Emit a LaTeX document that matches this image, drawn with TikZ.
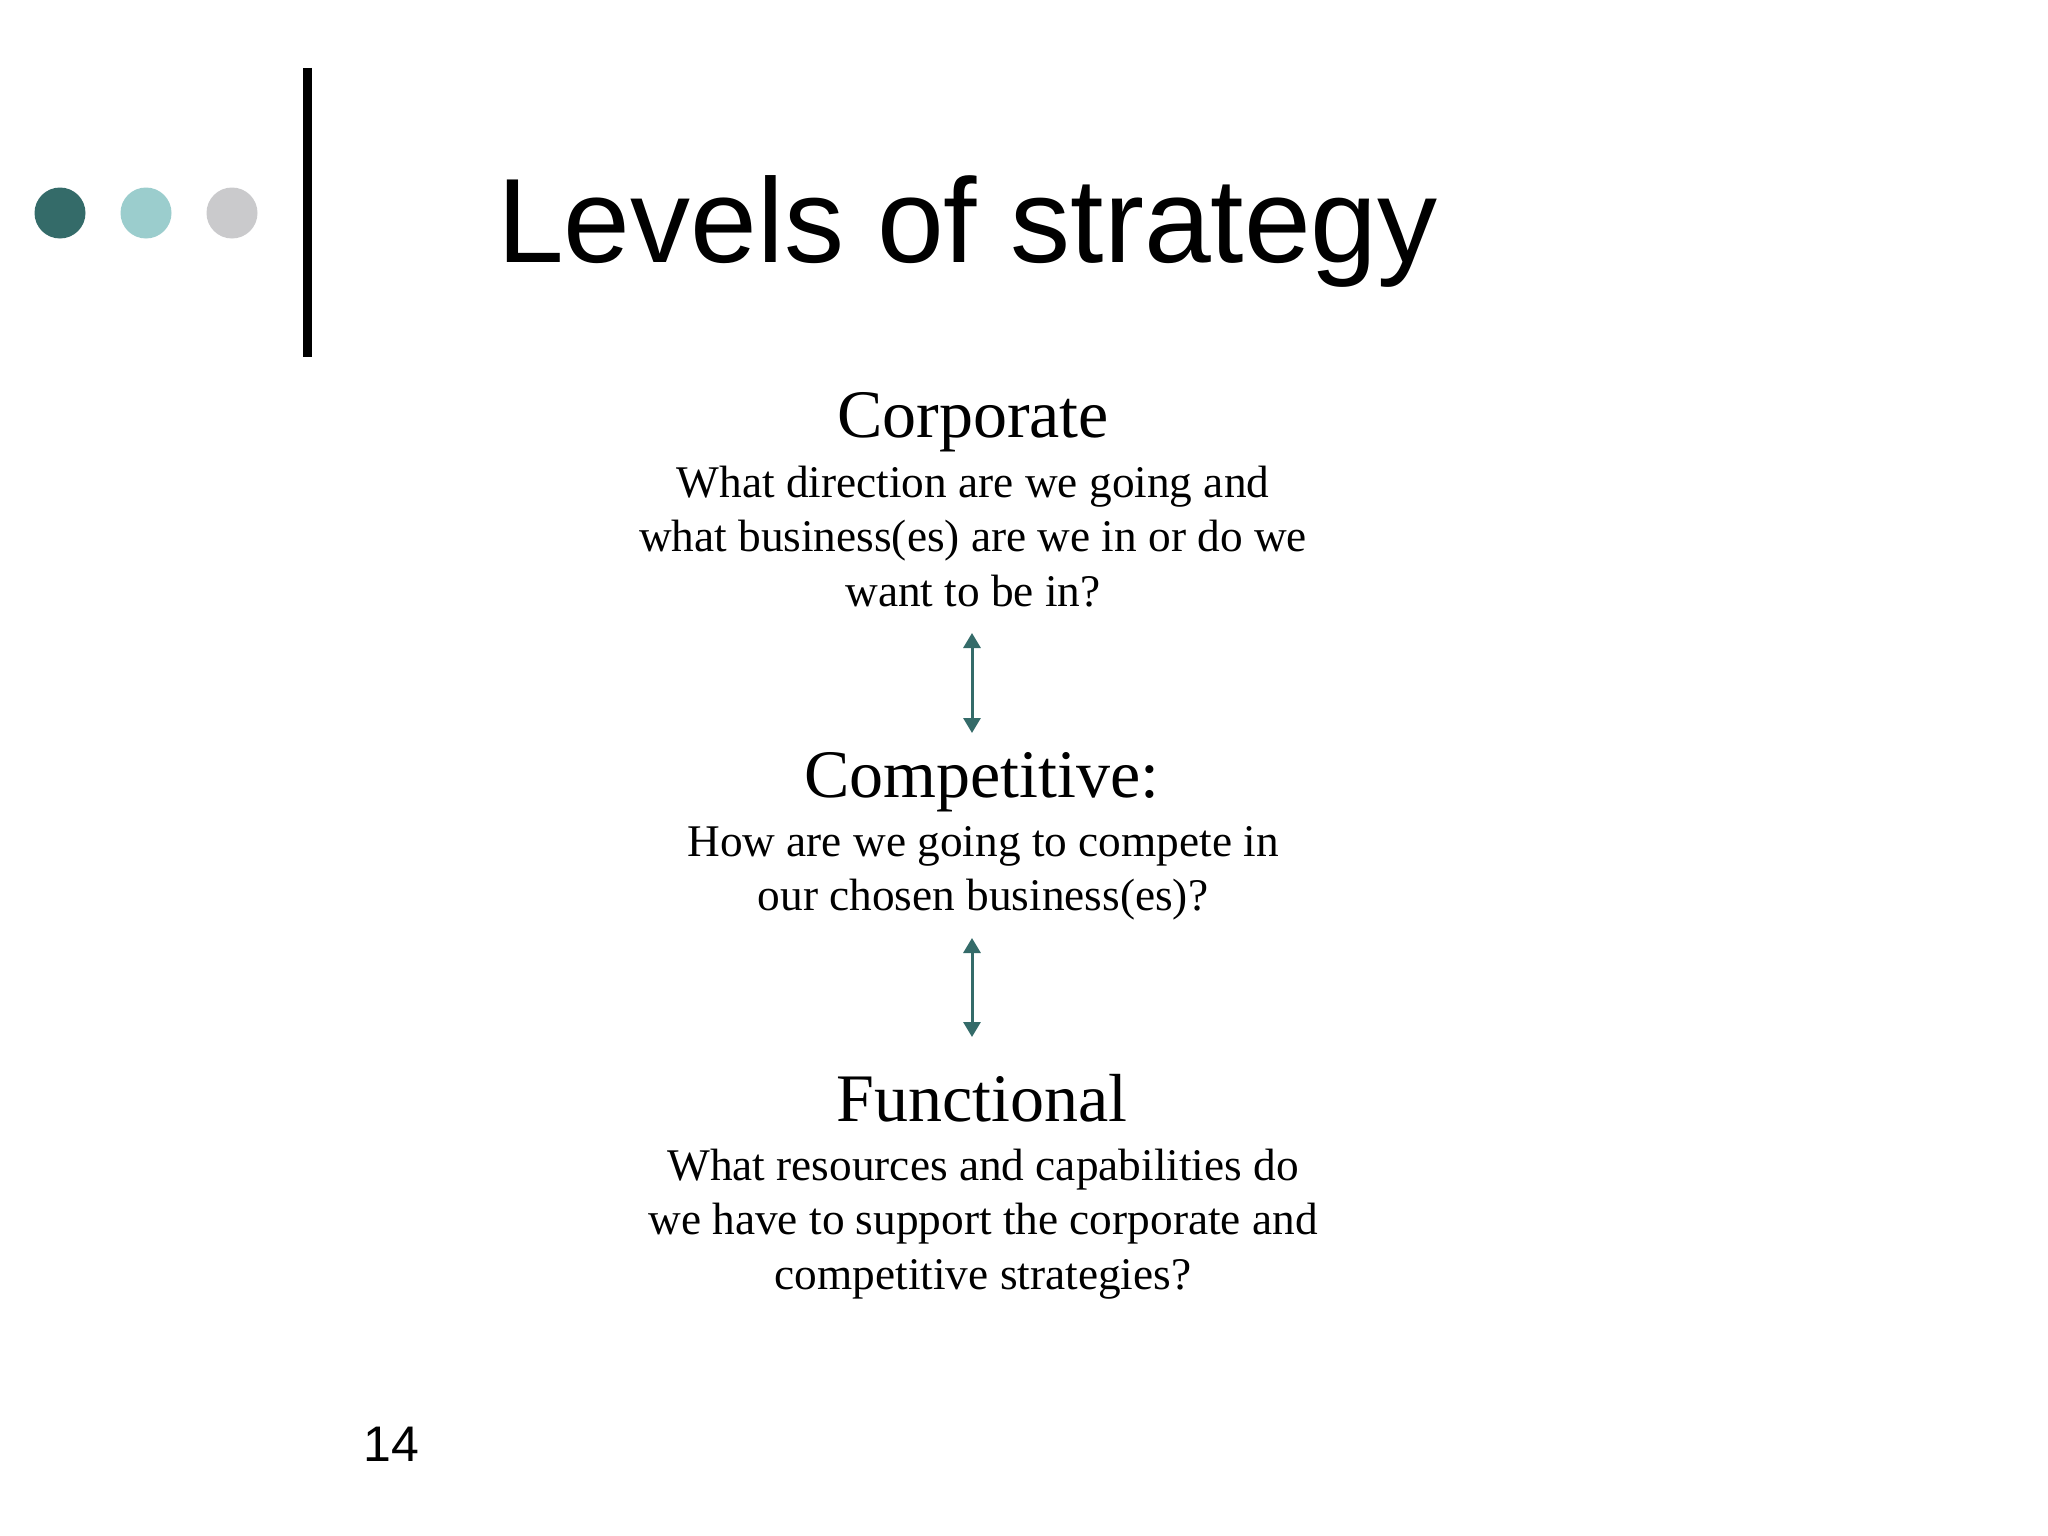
\documentclass[tikz,border=0pt]{standalone}
\usepackage{fontspec}
\setmainfont{Liberation Serif}
\newfontfamily\titlefont{Liberation Sans}
\usetikzlibrary{arrows.meta}
\definecolor{tealA}{HTML}{346B69}
\definecolor{tealB}{HTML}{9BCDCD}
\definecolor{greyC}{HTML}{CACACC}
\begin{document}
\begin{tikzpicture}[x=1pt,y=-1pt,
  headtxt/.style={anchor=base,inner sep=0pt,font=\fontsize{68}{78}\selectfont},
  bodytxt/.style={anchor=base,inner sep=0pt,font=\fontsize{45.3}{54.5}\selectfont},
  arr/.style={tealA,line width=3pt,{Triangle[length=15pt,width=17pt]}-{Triangle[length=15pt,width=17pt]}},
  dotnode/.style={circle,inner sep=0pt,minimum size=51pt,draw=none}]
\useasboundingbox[fill=white] (0,0) rectangle (2048,1536);
% decoration
\node[dotnode,fill=tealA] (d1) at (60,213) {};
\node[dotnode,fill=tealB] (d2) at (146,213) {};
\node[dotnode,fill=greyC] (d3) at (232,213) {};
\draw[line width=9pt] (307,68) -- (307,357);
% title
\node[anchor=base west,inner sep=0pt,font=\titlefont\fontsize{120}{130}\selectfont] (title) at (497,262) {Levels of strategy};
% corporate
\node[headtxt] (corp) at (973,437) {Corporate};
\node[bodytxt] (corpbody) at (973,497) {\begin{tabular}[t]{@{}c@{}}What direction are we going and\\ what business(es) are we in or do we\\ want to be in?\end{tabular}};
% competitive
\node[headtxt] (comp) at (982,797) {Competitive:};
\node[bodytxt] (compbody) at (983,856) {\begin{tabular}[t]{@{}c@{}}How are we going to compete in\\ our chosen business(es)?\end{tabular}};
% functional
\node[headtxt] (func) at (982,1121) {Functional};
\node[bodytxt] (funcbody) at (983,1180) {\begin{tabular}[t]{@{}c@{}}What resources and capabilities do\\ we have to support the corporate and\\ competitive strategies?\end{tabular}};
% arrows
\coordinate (a1t) at (972,633);
\coordinate (a1b) at (972,733);
\coordinate (a2t) at (972,938);
\coordinate (a2b) at (972,1037);
\draw[arr] (a1t) -- (a1b);
\draw[arr] (a2t) -- (a2b);
% page number
\node[anchor=base west,inner sep=0pt,font=\titlefont\fontsize{50}{60}\selectfont] (pnum) at (363,1461) {14};
\end{tikzpicture}
\end{document}
